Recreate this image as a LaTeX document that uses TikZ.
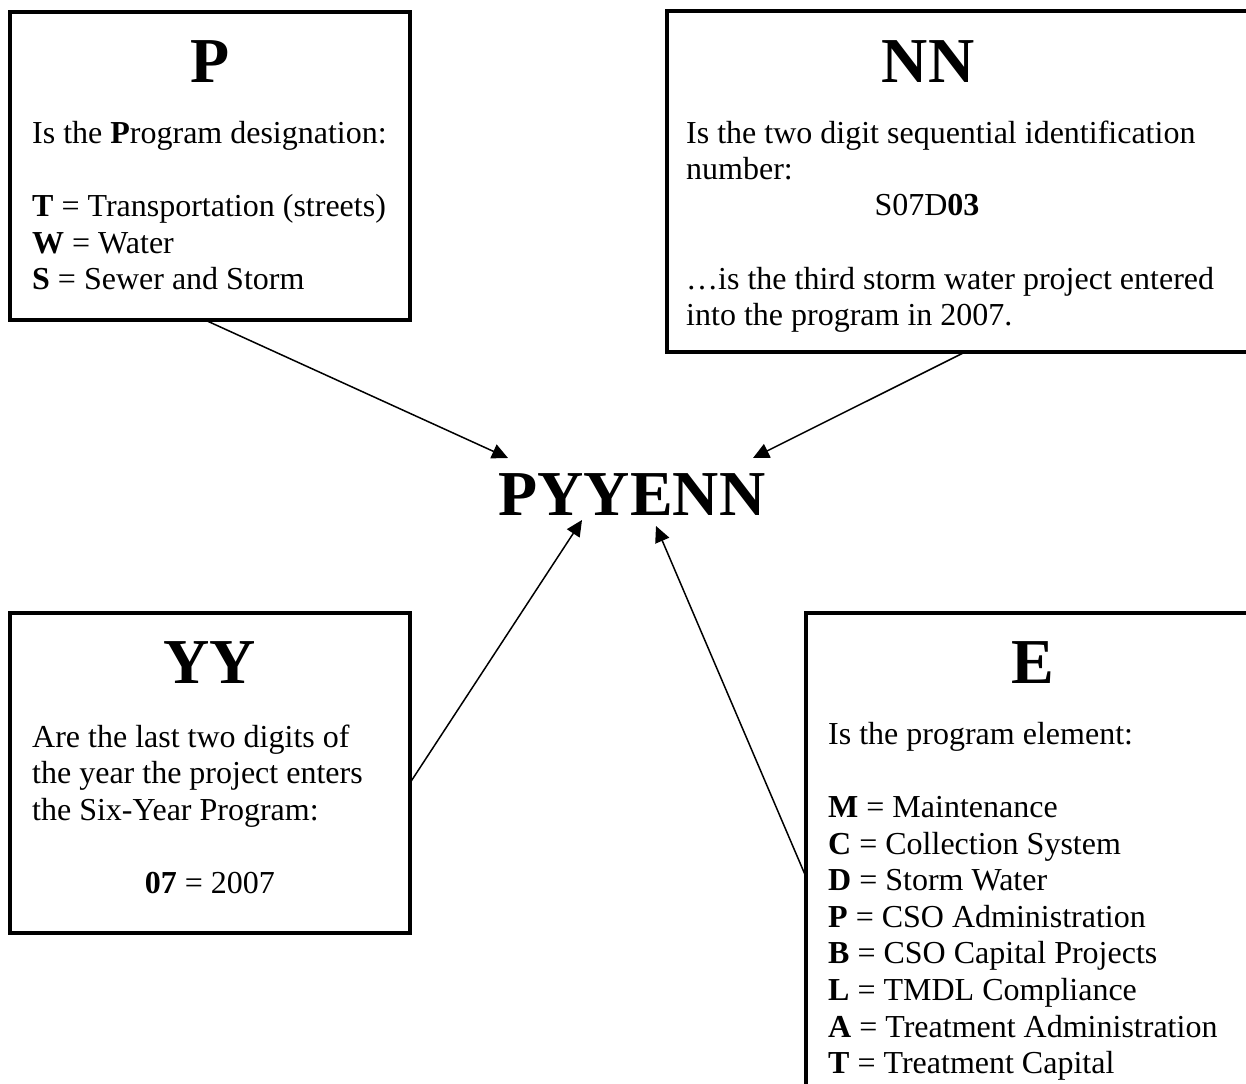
\documentclass[tikz,border=0pt]{standalone}
\usepackage{fontspec}
\setmainfont{Liberation Serif}
\usetikzlibrary{arrows.meta,calc}
\begin{document}
\begin{tikzpicture}[x=1pt,y=-1pt,
  infobox/.style={draw, line width=3.2pt, rectangle, inner sep=0pt, outer sep=0pt},
  heading/.style={font=\fontsize{64}{70}\selectfont\bfseries, anchor=base, inner sep=0pt},
  bodytext/.style={font=\fontsize{32}{36.6}\selectfont, anchor=north west, align=left, inner sep=0pt},
  bodyline/.style={font=\fontsize{32}{36.6}\selectfont, anchor=base, inner sep=0pt},
  pointer/.style={line width=1.5pt, -{Triangle[length=16pt,width=15pt]}}
]
\useasboundingbox (0,0) rectangle (1246,1083);
\clip (0,0) rectangle (1246,1083);
\fill[white] (0,0) rectangle (1246,1083);

% boxes
\node[infobox, minimum width=400pt, minimum height=308pt] (pbox) at (210,166) {};
\node[infobox, minimum width=595pt, minimum height=341pt] (nnbox) at (964.5,181.5) {};
\node[infobox, minimum width=400pt, minimum height=320pt] (yybox) at (210,773) {};
\node[infobox, minimum width=456pt, minimum height=487pt] (ebox) at (1034,856.5) {};

% headings
\node[heading] (ph) at (210,83) {P};
\node[heading] (nnh) at (928,83) {NN};
\node[heading] (yyh) at (210,683) {YY};
\node[heading] (eh) at (1033,683) {E};

% central code
\node[heading] (code) at (632,515) {PYYENN};

% body texts
\node[bodytext] (ptext) at (32,117.4) {\strut Is the \textbf{P}rogram designation:\\[36.6pt]
  \textbf{T} = Transportation (streets)\\
  \textbf{W} = Water\\
  \textbf{S} = Sewer and Storm};

\node[bodytext] (nntext) at (686,117.4) {\strut Is the two digit sequential identification\\
  number:};
\node[bodyline] (nnex) at (927,216) {S07D\textbf{03}};
\node[bodytext] (nnmore) at (686,263.4) {\strut …is the third storm water project entered\\
  into the program in 2007.};

\node[bodytext] (yytext) at (32,721.4) {\strut Are the last two digits of\\
  the year the project enters\\
  the Six-Year Program:};
\node[bodyline] (yyex) at (210,893) {\textbf{07} = 2007};

\node[bodytext] (etext) at (828,718.4) {\strut Is the program element:\\[36.6pt]
  \textbf{M} = Maintenance\\
  \textbf{C} = Collection System\\
  \textbf{D} = Storm Water\\
  \textbf{P} = CSO Administration\\
  \textbf{B} = CSO Capital Projects\\
  \textbf{L} = TMDL Compliance\\
  \textbf{A} = Treatment Administration\\
  \textbf{T} = Treatment Capital};

% arrow tips
\coordinate (t1) at (508,458);
\coordinate (t2) at (753,458);
\coordinate (t3) at (582,520);
\coordinate (t4) at (656,526);

% connectors
\draw[pointer] ($(pbox.south west)!0.4875!(pbox.south east)$) -- (t1);
\draw[pointer] ($(nnbox.south west)!0.501!(nnbox.south east)$) -- (t2);
\draw[pointer] ($(yybox.north east)!0.531!(yybox.south east)$) -- (t3);
\draw[pointer] ($(ebox.north west)!0.542!(ebox.south west)$) -- (t4);
\end{tikzpicture}
\end{document}
